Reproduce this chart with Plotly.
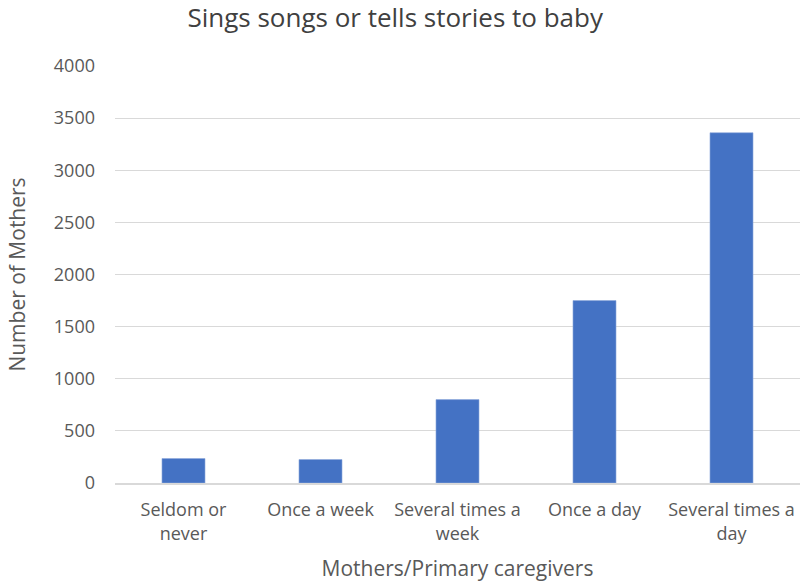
import plotly.graph_objects as go

# Frequency categories and number of mothers in each
categories = ["Seldom or<br>never", "Once a week", "Several times a<br>week",
              "Once a day", "Several times a<br>day"]
mothers = [235, 225, 800, 1750, 3360]

y_ticks = [0, 500, 1000, 1500, 2000, 2500, 3000, 3500, 4000]

font_family = "Open Sans, Noto Sans, sans-serif"
text_color = "#595959"
grid_color = "#D9D9D9"

fig = go.Figure(
    go.Bar(
        x=categories,
        y=mothers,
        marker=dict(color="#4472C4", line=dict(color="#8FAADC", width=0.6)),
    )
)

fig.update_layout(
    width=800,
    height=583,
    margin=dict(l=115, r=0, t=66, b=100),
    paper_bgcolor="white",
    plot_bgcolor="white",
    bargap=0.686,
    showlegend=False,
    font=dict(family=font_family, color=text_color, size=18),
    title=dict(
        text="Sings songs or tells stories to baby",
        x=0.494, xref="container", xanchor="center",
        y=0.97, yref="container", yanchor="middle",
        font=dict(size=26, color="#404040"),
    ),
)

fig.update_xaxes(
    showgrid=False,
    showline=True,
    linecolor=grid_color,
    linewidth=1.5,
    ticks="",
    ticklabelstandoff=10,
    tickfont=dict(size=18, color=text_color),
    title=dict(text="Mothers/Primary caregivers", font=dict(size=21, color=text_color), standoff=18),
)

fig.update_yaxes(
    range=[0, 4000],
    tickvals=y_ticks,
    showgrid=True,
    gridcolor=grid_color,
    gridwidth=1,
    zeroline=False,
    showline=False,
    ticks="",
    ticklabelstandoff=19,
    tickfont=dict(size=18, color=text_color),
    title=dict(text="Number of Mothers", font=dict(size=21, color=text_color), standoff=22),
)

fig.write_html("out.html")
